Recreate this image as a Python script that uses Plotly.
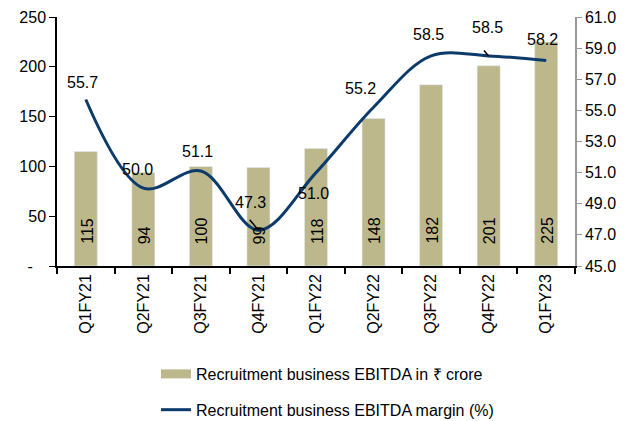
import plotly.graph_objects as go

categories = ["Q1FY21", "Q2FY21", "Q3FY21", "Q4FY21", "Q1FY22", "Q2FY22", "Q3FY22", "Q4FY22", "Q1FY23"]
ebitda = [115, 94, 100, 99, 118, 148, 182, 201, 225]
margin = [55.7, 50.0, 51.1, 47.3, 51.0, 55.2, 58.5, 58.5, 58.2]
left_tickvals = [0, 50, 100, 150, 200, 250]
left_ticktext = ["-\u00a0\u00a0\u00a0", "50", "100", "150", "200", "250"]

bar_name = "Recruitment business EBITDA in ₹ crore"
line_name = "Recruitment business EBITDA margin (%)"

BAR_COLOR = "#BCB88C"
LINE_COLOR = "#0C3B6B"
FONT = "Liberation Sans, Arial, sans-serif"
FS = 16

# label offsets in px: (dx, dy) for text; leader line tail offsets (or None)
label_offsets = [(-3, 17), (-6, 19), (-3, 20), (-8, 28), (-3, -21), (-13, 19), (-3, 21), (-1, 28), (-4, 21)]
leader_offsets = [None, None, None, (-10, -12), None, None, None, (-6, -7), None]

fig = go.Figure()
fig.add_trace(go.Bar(
    x=categories, y=ebitda, name=bar_name, marker_color=BAR_COLOR, width=0.4,
    showlegend=False,
))
fig.add_trace(go.Scatter(
    x=categories, y=margin, name=line_name, yaxis="y2", mode="lines",
    line=dict(color=LINE_COLOR, width=3, shape="spline", smoothing=1.0),
    showlegend=False,
))
# legend entries
fig.add_trace(go.Scatter(x=[None], y=[None], mode="lines", name=bar_name,
                         line=dict(color=BAR_COLOR, width=9), legendgroup="a"))
fig.add_trace(go.Scatter(x=[None], y=[None], mode="lines", name=line_name,
                         line=dict(color=LINE_COLOR, width=3), legendgroup="b"))

# bar value labels (rotated, near the base)
for c, v in zip(categories, ebitda):
    fig.add_annotation(x=c, y=0, yref="y", text=str(v), showarrow=False,
                       textangle=-90, yanchor="bottom", yshift=20, xshift=1,
                       font=dict(size=FS, color="black", family=FONT))

for c, v, (dx, dy), lead in zip(categories, margin, label_offsets, leader_offsets):
    fig.add_annotation(x=c, y=v, yref="y2", text=f"{v:.1f}", showarrow=False,
                       xshift=dx, yshift=dy, font=dict(size=FS, color="black", family=FONT))
    if lead is not None:
        fig.add_annotation(x=c, y=v, yref="y2", text="", showarrow=True,
                           ax=lead[0], ay=lead[1], arrowhead=0, arrowwidth=1.5,
                           arrowcolor="black", standoff=0)

fig.update_layout(
    width=627, height=413,
    margin=dict(l=49, r=60, t=9, b=155, autoexpand=False),
    paper_bgcolor="white", plot_bgcolor="white",
    font=dict(family=FONT, size=FS, color="black"),
    bargap=0.6,
    xaxis=dict(showline=True, linecolor="black", linewidth=1.5, ticks="outside",
               tickson="boundaries", ticklen=6, tickcolor="black", tickwidth=1.5,
               tickangle=-90, showgrid=False, tickfont=dict(size=FS), automargin=False),
    yaxis=dict(range=[0, 250], tickvals=left_tickvals, ticktext=left_ticktext,
               showline=True, linecolor="black", linewidth=1.5, ticks="outside",
               ticklen=6, tickcolor="black", showgrid=False, zeroline=False,
               tickfont=dict(size=FS), automargin=False),
    yaxis2=dict(range=[45, 61], dtick=2, tick0=45, tickformat=".1f", overlaying="y",
                side="right", showline=True, linecolor="#999999", linewidth=1.5,
                ticks="outside", ticklen=5, tickcolor="#999999", showgrid=False,
                zeroline=False, tickfont=dict(size=FS), automargin=False),
    legend=dict(x=0.236, y=0.155, xref="container", yref="container",
                xanchor="left", yanchor="top", orientation="v",
                tracegroupgap=12, font=dict(size=FS), bgcolor="rgba(0,0,0,0)"),
)

fig.write_html("out.html")
